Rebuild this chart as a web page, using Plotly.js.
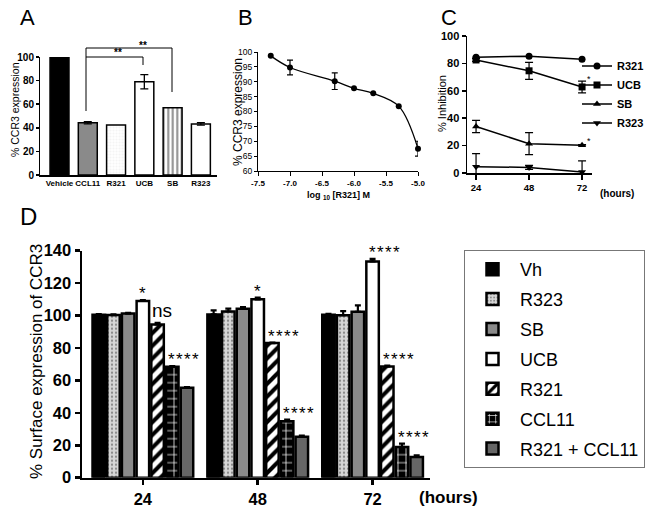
<!DOCTYPE html>
<html><head><meta charset="utf-8">
<script src="https://cdn.plot.ly/plotly-3.0.1.min.js"></script>
<style>html,body{margin:0;padding:0;background:#fff}#chart{width:651px;height:510px}</style>
</head><body><div id="chart"></div>
<script>
// ---------- Panel A ----------
const catsA = ['Vehicle','CCL11','R321','UCB','SB','R323'];
const valsA = [100, 44.3, 42.3, 79, 57, 43.3];
const errA  = [NaN, 1, NaN, 6, NaN, 1];
// ---------- Panel B ----------
const logR321 = [-7.301, -7.0, -6.301, -6.0, -5.699, -5.301, -5.0];
const ccr3B   = [98.7, 94.8, 90.2, 87.8, 86.1, 81.8, 67.5];
const errB    = [NaN, 2.5, 2.8, NaN, NaN, NaN, 2.5];
const tickValsB = [-7.5, -7.0, -6.5, -6.0, -5.5, -5.0];
const tickTextB = ['-7.5', '-7.0', '-6.5', '-6.0', '-5.5', '-5.0'];
// ---------- Panel C ----------
const hoursC  = [24, 48, 72];
const inhR321 = [84.5, 85.3, 83.0];
const errR321 = [NaN, NaN, NaN];
const inhUCB  = [82.5, 74.6, 62.8];
const errUCB  = [1, 6.2, 4.3];
const inhSB   = [33.9, 21.4, 20.3];
const errSB   = [4.5, 8, 0.5];
const inhR323 = [4.6, 4.1, 0.8];
const errR323 = [9.5, 1.5, 8];
// ---------- Panel D ----------
const hoursD   = ['24', '48', '72'];
const namesD   = ['Vh', 'R323', 'SB', 'UCB', 'R321', 'CCL11', 'R321 + CCL11'];
const valsVh    = [100.5, 100.7, 100.5];
const valsR323  = [100.3, 102.5, 100.2];
const valsSB    = [101.2, 104.2, 102.3];
const valsUCB   = [109.0, 110.0, 133.4];
const valsR321  = [94.5, 83.0, 68.6];
const valsCCL11 = [68.5, 34.8, 19.0];
const valsCombo = [55.5, 25.2, 12.8];
const errVh    = [0.4, 2.5, 0.5];
const errR323D = [0.5, 1.8, 2.5];
const errSBD   = [0.5, 1.0, 4.0];
const errUCBD  = [0.5, 1.0, 1.5];
const errR321D = [1.0, 0.3, 0.5];
const errCCL11 = [0.3, 1.0, 2.0];
const errCombo = [0.3, 0.7, 1.0];
const STARS4 = '*\u200A*\u200A*\u200A*';
const sigUCB   = ['*', '*', STARS4];
const sigR321  = ['ns', STARS4, STARS4];
const sigCCL11 = [STARS4, STARS4, STARS4];

const W = 651, H = 510;
const px = (a, b) => [a / W, b / W];
const py = (top, bottom) => [1 - bottom / H, 1 - top / H];
const FONT = 'Liberation Sans, Arial, sans-serif';
const traces = [];

// A: single bar trace
traces.push({
  type: 'bar', x: catsA, y: valsA, xaxis: 'x', yaxis: 'y', width: 0.67, showlegend: false,
  marker: {
    color: ['#000', '#8a8a8a', '#f4f4f4', '#fff', '#8c8c8c', '#fff'],
    line: {color: '#000', width: 1.5},
    pattern: {
      shape: ['', '', '.', 'x', '|', ''],
      fgcolor: ['#000', '#000', '#aaa', '#111', '#000', '#000'],
      bgcolor: ['#000', '#8a8a8a', '#f4f4f4', '#fff', '#8c8c8c', '#fff'],
      size: [6, 6, 3, 4, 4.5, 6],
      solidity: [0.3, 0.3, 0.4, 0.75, 0.45, 0.3]
    }
  },
  error_y: {type: 'data', array: errA, color: '#000', thickness: 1.3, width: 4}
});

// B: dose response
traces.push({
  type: 'scatter', mode: 'lines+markers', x: logR321, y: ccr3B, xaxis: 'x2', yaxis: 'y2',
  showlegend: false, cliponaxis: false,
  line: {color: '#000', width: 1.3, shape: 'spline', smoothing: 1},
  marker: {color: '#000', size: 6},
  error_y: {type: 'data', array: errB, color: '#000', thickness: 1.2, width: 3}
});

// C: inhibition time course
const cSeries = [
  ['R321', inhR321, errR321, 'circle'],
  ['UCB', inhUCB, errUCB, 'square'],
  ['SB', inhSB, errSB, 'triangle-up'],
  ['R323', inhR323, errR323, 'triangle-down']
];
cSeries.forEach(([name, vals, err, sym]) => {
  traces.push({
    type: 'scatter', mode: 'lines+markers', name: name, x: hoursC, y: vals,
    xaxis: 'x3', yaxis: 'y3', legend: 'legend2', cliponaxis: false,
    line: {color: '#000', width: 1.5},
    marker: {color: '#000', size: 7, symbol: sym},
    error_y: {type: 'data', array: err, color: '#000', thickness: 1.2, width: 4}
  });
});

// D: grouped bars
const dVals = [valsVh, valsR323, valsSB, valsUCB, valsR321, valsCCL11, valsCombo];
const dErrs = [errVh, errR323D, errSBD, errUCBD, errR321D, errCCL11, errCombo];
const dStyle = [
  {color: '#000'},
  {color: '#d6d6d6', pattern: {shape: '.', fgcolor: '#888', bgcolor: '#d6d6d6', size: 4, solidity: 0.25}},
  {color: '#8a8a8a'},
  {color: '#fff'},
  {color: '#fff', pattern: {shape: '/', fgcolor: '#000', bgcolor: '#fff', size: 9, solidity: 0.45}},
  {color: '#000', pattern: {shape: '+', fgcolor: '#fff', bgcolor: '#000', size: 8, solidity: 0.18}},
  {color: '#666'}
];
namesD.forEach((name, i) => {
  const st = dStyle[i];
  const marker = {color: st.color, line: {color: '#000', width: 2.5}};
  if (st.pattern) marker.pattern = st.pattern;
  traces.push({
    type: 'bar', name: name, x: hoursD, y: dVals[i], xaxis: 'x4', yaxis: 'y4',
    legend: 'legend', legendgroup: name, marker: marker,
    error_y: {type: 'data', symmetric: false, array: dErrs[i], arrayminus: dErrs[i].map(() => 0),
              color: '#000', thickness: 2.2, width: 3}
  });
});

// significance annotations in D (x given as category serial number)
const pitch = 14.7;
const annotations = [];
const addSig = (labels, idx, vals, errs) => {
  labels.forEach((t, k) => {
    const isStars = t === STARS4;
    const isNs = t === 'ns';
    annotations.push({
      xref: 'x4', yref: 'y4', x: k, y: vals[k] + errs[k], text: t, showarrow: false,
      xanchor: (isStars || isNs) ? 'left' : 'center', yanchor: 'bottom',
      xshift: (idx - 3) * pitch + (isStars ? -6 : (isNs ? -8 : 0)),
      yshift: isNs ? 0 : -5,
      font: {family: FONT, size: isNs ? 19 : 17, color: '#000'}
    });
  });
};
addSig(sigUCB, 3, valsUCB, errUCBD);
addSig(sigR321, 4, valsR321, errR321D);
addSig(sigCCL11, 5, valsCCL11, errCCL11);

// Panel letters, axis titles & misc text
const txt = (t, x, y, s, bold, angle) => ({xref: 'paper', yref: 'paper', x: x / W, y: 1 - y / H, text: t,
  showarrow: false, xanchor: 'center', yanchor: 'middle', textangle: angle || 0,
  font: {family: FONT, size: s, color: '#000', weight: bold ? 'bold' : 'normal'}});
annotations.push(txt('A', 27, 18, 22), txt('B', 246, 18, 22), txt('C', 449, 18, 22), txt('D', 28, 216, 24));
annotations.push(txt('% CCR3 expression', 15, 110, 10.5, false, -90));
annotations.push(txt('% CCR3 expression', 238, 112, 12, false, -90));
annotations.push(txt('log <sub>10</sub> [R321] M', 338, 196, 9, true));
annotations.push(txt('% Inhibition', 442, 104, 11, false, -90));
annotations.push(txt('% Surface expression of CCR3', 36, 362, 17, false, -90));
annotations.push(txt('(hours)', 617, 193, 10, true));
annotations.push(txt('(hours)', 448, 497, 17, true));
annotations.push(txt('**', 118, 53, 10, true), txt('**', 143, 45, 10, true));
annotations.push(txt('*', 589, 79, 9), txt('*', 589, 141, 9));

// brackets in A
const seg = (x0, y0, x1, y1) => ({type: 'line', xref: 'paper', yref: 'paper',
  x0: x0 / W, y0: 1 - y0 / H, x1: x1 / W, y1: 1 - y1 / H, line: {color: '#000', width: 1}});
const shapes = [
  seg(86, 48, 86, 111), seg(86, 48, 172, 48), seg(172, 48, 172, 92),
  seg(86, 57, 143, 57), seg(143, 57, 143, 65)
];

const axBase = {showgrid: false, zeroline: false, showline: true, linecolor: '#000', tickcolor: '#000'};
const tf = (s, bold) => ({family: FONT, size: s, color: '#000', weight: bold ? 'bold' : 'normal'});

const layout = {
  width: W, height: H, margin: {l: 0, r: 0, t: 0, b: 0},
  paper_bgcolor: '#fff', plot_bgcolor: 'rgba(0,0,0,0)',
  font: {family: FONT, color: '#000'},
  barmode: 'group', bargap: 0.104, bargroupgap: 0.15,
  xaxis: Object.assign({}, axBase, {domain: px(40, 217), anchor: 'y', type: 'category',
    range: [-0.69, 5.57], ticks: '', linewidth: 1.5, tickangle: 0, tickfont: tf(8, true)}),
  yaxis: Object.assign({}, axBase, {domain: py(57, 175), anchor: 'x', range: [0, 100], dtick: 20,
    ticks: 'outside', ticklen: 2.5, tickwidth: 1.5, linewidth: 1.5, tickfont: tf(10, true)}),
  xaxis2: Object.assign({}, axBase, {domain: px(258, 418), anchor: 'y2', range: [-7.5, -5.0],
    tickvals: tickValsB, ticktext: tickTextB, ticks: 'outside', ticklen: 4, tickwidth: 1, linewidth: 1,
    tickangle: 0, tickfont: tf(8, true)}),
  yaxis2: Object.assign({}, axBase, {domain: py(52, 171), anchor: 'x2', range: [60, 100], dtick: 5,
    ticks: 'outside', ticklen: 3, tickwidth: 1, linewidth: 1, tickfont: tf(8.5, false)}),
  xaxis3: Object.assign({}, axBase, {domain: px(467, 592), anchor: 'y3', range: [19.9, 76.5],
    tickvals: hoursC, ticks: 'outside', ticklen: 5, tickwidth: 1.5, linewidth: 1.5, tickfont: tf(9.5, true)}),
  yaxis3: Object.assign({}, axBase, {domain: py(36, 173), anchor: 'x3', range: [0, 100], dtick: 20,
    ticks: 'outside', ticklen: 4, tickwidth: 1.5, linewidth: 1.5, tickfont: tf(11, true)}),
  xaxis4: Object.assign({}, axBase, {domain: px(82, 430), anchor: 'y4', type: 'category',
    range: [-0.53, 2.5], ticks: 'outside', ticklen: 5, tickwidth: 2.5, linewidth: 2.5, tickfont: tf(16.5, true)}),
  yaxis4: Object.assign({}, axBase, {domain: py(250.7, 477.7), anchor: 'x4', range: [0, 140], dtick: 20,
    ticks: 'outside', ticklen: 5, tickwidth: 2.5, linewidth: 2.5, tickfont: tf(16.5, true)}),
  legend: {x: 464 / W, y: 1 - 250 / H, xanchor: 'left', yanchor: 'top', bgcolor: '#fff',
    bordercolor: '#777', borderwidth: 1, font: tf(18, false), traceorder: 'grouped',
    tracegroupgap: 3.5, itemwidth: 45},
  legend2: {x: 577 / W, y: 1 - 51.5 / H, xanchor: 'left', yanchor: 'top', bgcolor: 'rgba(0,0,0,0)',
    borderwidth: 0, font: tf(11, true), traceorder: 'normal', tracegroupgap: 0, itemwidth: 30},
  annotations: annotations,
  shapes: shapes
};

Plotly.newPlot('chart', traces, layout, {displayModeBar: false, staticPlot: true});
</script>
</body></html>
